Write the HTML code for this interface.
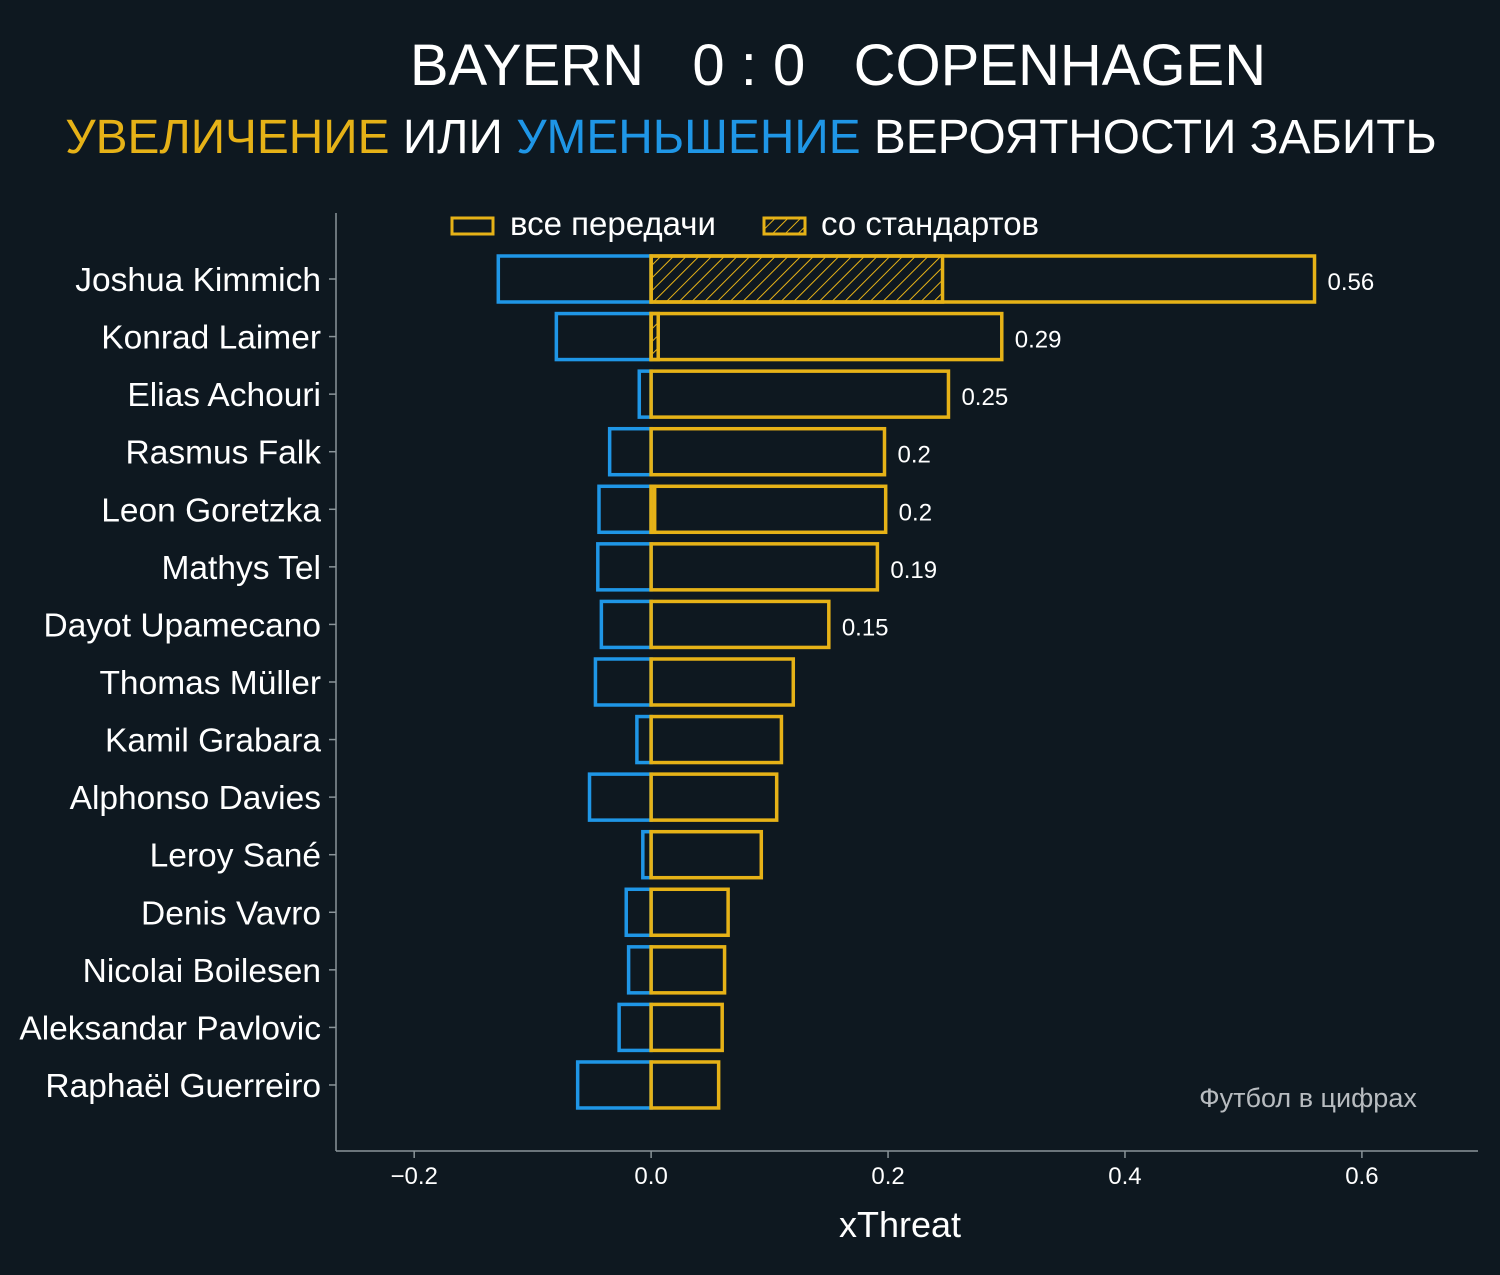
<!DOCTYPE html>
<html><head><meta charset="utf-8"><style>
html,body{margin:0;padding:0;background:#0e1820;}
svg{display:block;font-family:"Liberation Sans","DejaVu Sans",sans-serif;}
</style></head><body>
<svg id="chart" width="1500" height="1275" viewBox="0 0 1500 1275" xmlns="http://www.w3.org/2000/svg">
<defs>
<pattern id="hatch" patternUnits="userSpaceOnUse" width="9" height="9" patternTransform="rotate(45)">
<line x1="0" y1="0" x2="0" y2="9" stroke="#e6b217" stroke-width="2"/>
</pattern>
</defs>
<rect width="1500" height="1275" fill="#0e1820"/>
<text x="838" y="85" text-anchor="middle" font-size="58" fill="#ffffff" xml:space="preserve">BAYERN   0 : 0   COPENHAGEN</text>
<text x="751" y="153" text-anchor="middle" font-size="47.8"><tspan fill="#e6b217">УВЕЛИЧЕНИЕ</tspan><tspan fill="#ffffff"> ИЛИ </tspan><tspan fill="#1f96e6">УМЕНЬШЕНИЕ</tspan><tspan fill="#ffffff"> ВЕРОЯТНОСТИ ЗАБИТЬ</tspan></text>
<g>
<rect x="452" y="218" width="41" height="16" fill="none" stroke="#e6b217" stroke-width="3"/>
<text x="510" y="235" font-size="33" fill="#ffffff">все передачи</text>
<rect x="764" y="218" width="41" height="16" fill="url(#hatch)" stroke="#e6b217" stroke-width="3"/>
<text x="821" y="235" font-size="33" fill="#ffffff">со стандартов</text>
</g>
<g id="plot"></g>
<text x="1308" y="1107" text-anchor="middle" font-size="27" fill="#b8bcc0">Футбол в цифрах</text>
<text x="900" y="1237" text-anchor="middle" font-size="36" fill="#ffffff">xThreat</text>
</svg>
<script>
const players = ["Joshua Kimmich","Konrad Laimer","Elias Achouri","Rasmus Falk","Leon Goretzka","Mathys Tel","Dayot Upamecano","Thomas Müller","Kamil Grabara","Alphonso Davies","Leroy Sané","Denis Vavro","Nicolai Boilesen","Aleksandar Pavlovic","Raphaël Guerreiro"];
const positiveValues = [0.56,0.296,0.251,0.197,0.198,0.191,0.150,0.120,0.110,0.106,0.093,0.065,0.062,0.060,0.057];
const negativeValues = [-0.129,-0.080,-0.010,-0.035,-0.044,-0.045,-0.042,-0.047,-0.012,-0.052,-0.007,-0.021,-0.019,-0.027,-0.062];
const setPieceValues = [0.246,0.006,0,0,0.003,0,0,0,0,0,0,0,0,0,0];
const valueLabels = ["0.56","0.29","0.25","0.2","0.2","0.19","0.15","","","","","","","",""];
const xTicks = [-0.2,0,0.2,0.4,0.6];
const xTickLabels = ["−0.2","0.0","0.2","0.4","0.6"];

const NS="http://www.w3.org/2000/svg";
const plot=document.getElementById('plot');
const X0=336,X1=1478,XMIN=-0.266,XMAX=0.698;
const x=v=>X0+(v-XMIN)/(XMAX-XMIN)*(X1-X0);
const rowTop=279,rowStep=57.57,barH=46;
const y=i=>rowTop+i*rowStep;
function mk(tag,attrs){const e=document.createElementNS(NS,tag);for(const k in attrs)e.setAttribute(k,attrs[k]);plot.appendChild(e);return e;}

let a=mk('line',{x1:X0,y1:213,x2:X0,y2:1151,stroke:'#8a9499','stroke-width':1.5});


a=mk('line',{x1:X0,y1:1151,x2:X1,y2:1151,stroke:'#8a9499','stroke-width':1.5});



xTicks.forEach((t,i)=>{
  const tk=mk('line',{x1:x(t),y1:1151,x2:x(t),y2:1158,stroke:'#8a9499','stroke-width':1.5});
  
  
  const tl=mk('text',{x:x(t),y:1184,'text-anchor':'middle','font-size':24,fill:'#ffffff'});
  tl.textContent=xTickLabels[i];
  
  
});

players.forEach((p,i)=>{
  const cy=y(i);
  const tk=mk('line',{x1:X0-7,y1:cy,x2:X0,y2:cy,stroke:'#8a9499','stroke-width':1.5});
  
  
  const lab=mk('text',{x:321,y:cy+12,'text-anchor':'end','font-size':33.5,fill:'#ffffff'});
  lab.textContent=p;
  
  

  const nb=mk('rect',{x:x(negativeValues[i]),y:cy-barH/2,width:x(0)-x(negativeValues[i]),height:barH,fill:'none',stroke:'#1f96e6','stroke-width':3.5});
  
  

  if(setPieceValues[i]>0){
    const hb=mk('rect',{x:x(0),y:cy-barH/2,width:x(setPieceValues[i])-x(0),height:barH,fill:'url(#hatch)',stroke:'#e6b217','stroke-width':3.5});
    
    
  }
  const pb=mk('rect',{x:x(0),y:cy-barH/2,width:x(positiveValues[i])-x(0),height:barH,fill:'none',stroke:'#e6b217','stroke-width':3.5});
  
  

  if(valueLabels[i]){
    const vl=mk('text',{x:x(positiveValues[i])+13,y:cy+11,'font-size':24,fill:'#ffffff'});
    vl.textContent=valueLabels[i];
    
    
  }
});
</script>
</body></html>
